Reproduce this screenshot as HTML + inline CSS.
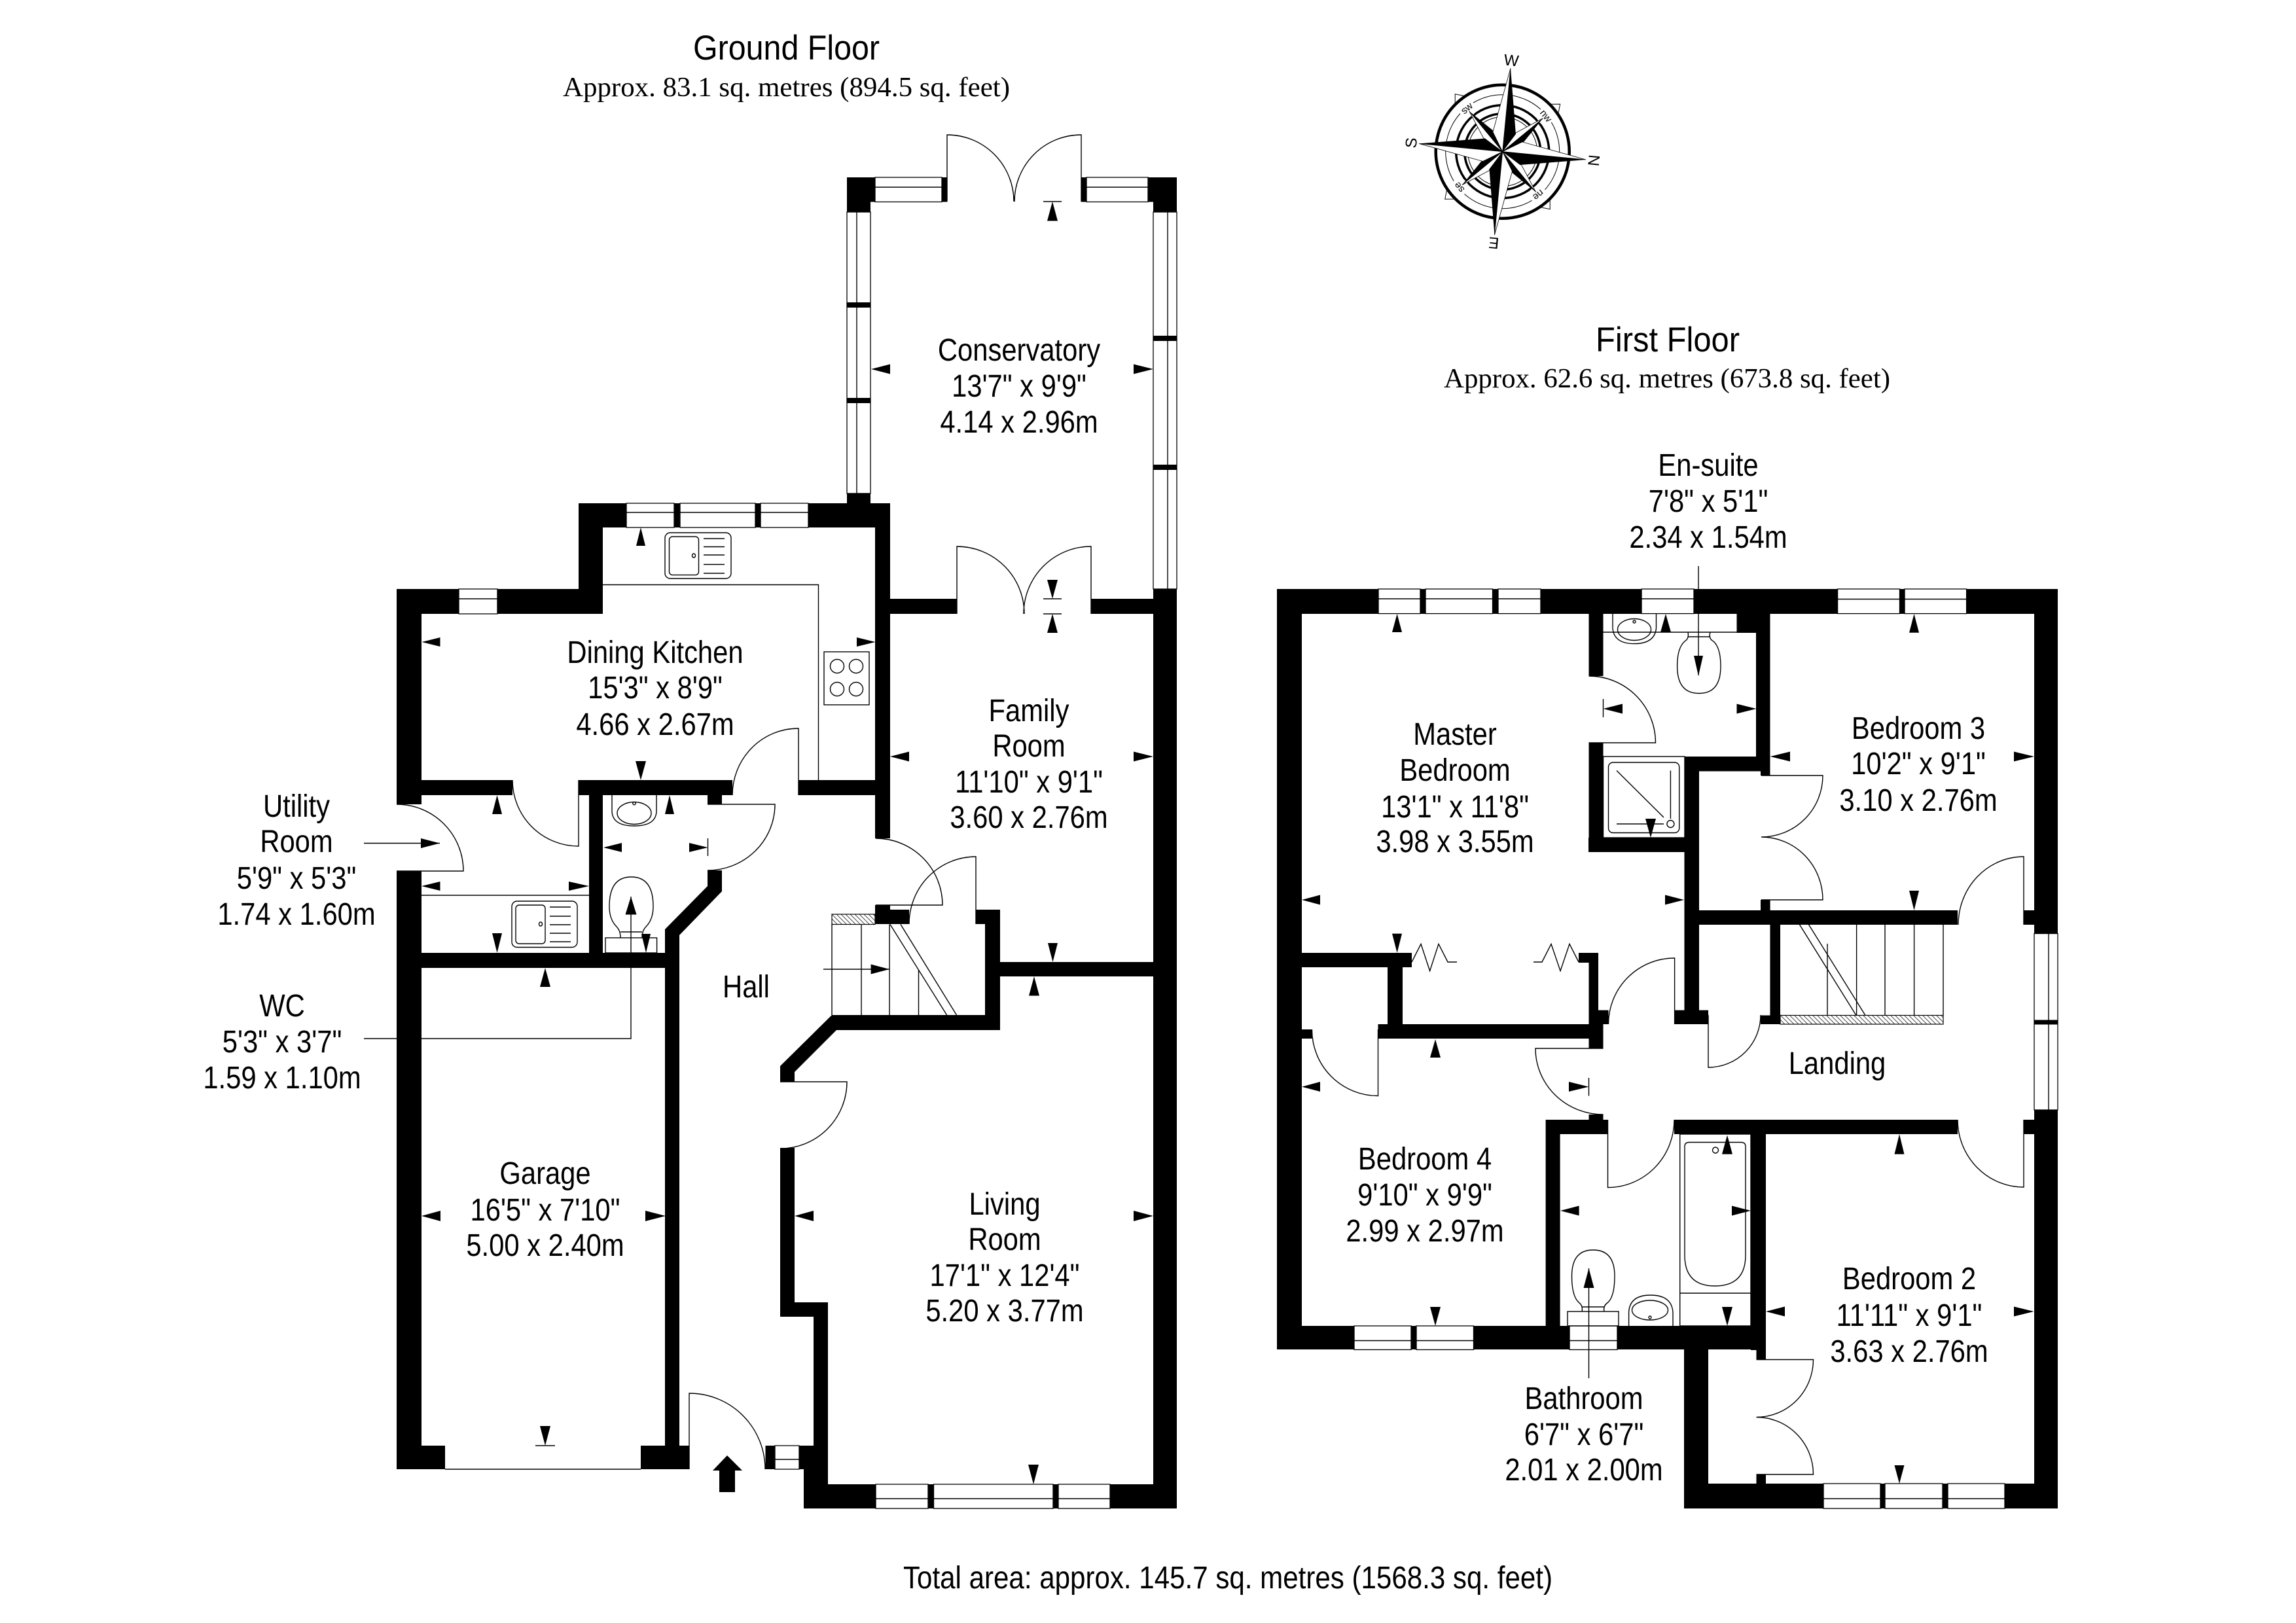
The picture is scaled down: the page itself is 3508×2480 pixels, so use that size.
<!DOCTYPE html>
<html><head><meta charset="utf-8"><title>Floor plan</title>
<style>
html,body{margin:0;padding:0;background:#fff}
svg{display:block}
text{font-family:"Liberation Sans",sans-serif;fill:#000}
.t{font-size:48px;text-anchor:middle}
.s{font-family:"Liberation Serif",serif;font-size:42px}
.h{font-size:53px}
.l{fill:none;stroke:#000;stroke-width:1.4}
.w{fill:#fff;stroke:#000;stroke-width:1.3}
</style></head><body>
<svg xmlns="http://www.w3.org/2000/svg" width="3508" height="2480" viewBox="0 0 3508 2480">
<defs><pattern id="ht" patternUnits="userSpaceOnUse" width="7" height="7"><path d="M0 0L7 7M-7 0L7 14M0 -7L14 7" stroke="#000" stroke-width=".7" fill="none"/></pattern></defs>
<rect width="3508" height="2480" fill="#fff"/>

<!-- headings -->
<text class="h" x="1059" y="91" textLength="285" lengthAdjust="spacingAndGlyphs">Ground Floor</text>
<text class="s" x="860" y="147" textLength="683" lengthAdjust="spacingAndGlyphs">Approx. 83.1 sq. metres (894.5 sq. feet)</text>
<text class="h" x="2438" y="537" textLength="220" lengthAdjust="spacingAndGlyphs">First Floor</text>
<text class="s" x="2206" y="592" textLength="682" lengthAdjust="spacingAndGlyphs">Approx. 62.6 sq. metres (673.8 sq. feet)</text>
<text x="1380" y="2427" style="font-size:48px" textLength="992" lengthAdjust="spacingAndGlyphs">Total area: approx. 145.7 sq. metres (1568.3 sq. feet)</text>

<!-- walls ground -->
<path fill="#000" d="M1294 271H1337V308.5H1330V324H1294Z
M1754 271H1798V324H1762V308.5H1754Z
M1439 271H1447V308.5H1439Z M1652 271H1660V308.5H1652Z
M1294 754H1330V770H1294Z
M1762 900H1798V2305H1762Z
M884 769H1359V806H884Z M884 769H921V938H884Z M606 900H921V938H606Z
M606 900H644V1229H606Z M606 1331H644V2245H606Z
M644 1192H783V1215H644Z M884 1192H1119V1215H884Z M1220 1192H1337V1215H1220Z
M1337 769H1360V1281H1337Z
M1359 915H1462V938H1359Z M1667 915H1762V938H1667Z
M900 1215H921V1456H900Z M644 1456H1038V1479H644Z
M1081 1215H1103V1229H1081Z
M1081 1330H1103V1362L1038 1429V2245H1016V1420L1081 1354Z
M606 2209H680V2245H606Z M979 2209H1053V2245H979Z
M1337 1383H1360V1412H1337Z M1360 1390H1389V1412H1360Z
M1491 1390H1528V1574H1278L1214 1638V1653H1192V1629L1271 1551H1505V1412H1491Z
M1528 1470H1762V1492H1528Z
M1192 1754H1214V1990H1265V2268H1762V2305H1228V2245H1169.5V2209H1243V2012H1192Z"/>

<!-- walls first -->
<path fill="#000" d="M1951 900H3144V938H1951Z M1951 900H1989V2062H1951Z M1951 2026H2698V2062H1951Z
M2427.5 938H2449.5V1033H2427.5Z M2427.5 1135H2449.5V1302H2427.5Z M2427 1280H2596V1302H2427Z
M2683 938H2704.5V1185H2690V1178H2683Z M2653.5 938H2704V967H2653.5Z
M2574 1156H2690V1178.5H2574Z M2573.5 1156H2596V1551H2573.5Z M2558 1543.6H2610V1565H2558Z
M2573.5 1391H2991V1413H2573.5Z M2690 1375H2704.6V1391H2690Z M3092 1391H3108V1413H3092Z
M3108 900H3144V1426.5H3108Z M3108 1696H3144V2305H3108Z M3092 1711H3108V1733H3092Z
M2704.5 1413H2720V1565H2704.5Z M2690 1551.5H2704.5V1565H2690Z
M2558 1711H2991V1733H2558Z
M2675 1733H2698V2063H2675Z M2683.5 2063H2698V2077.5H2683.5Z
M2573 2062H2610V2305H2573Z M2573 2267H3144V2305H2573Z M2683.5 2253H2698V2267H2683.5Z
M2361.6 1711H2383.6V2026H2361.6Z M2361.6 1711H2456.5V1733H2361.6Z M2427.5 1703H2449.5V1711H2427.5Z
M1989 1456H2157V1478H1989Z M2120 1456H2143V1587H2120Z M2105.5 1565H2449.5V1587H2105.5Z
M2412 1456H2442V1471H2412Z M2427.5 1456H2442V1565H2427.5Z M2427.5 1543.6H2457.5V1565H2427.5Z
M2427.5 1565H2449.5V1602H2427.5Z M1989 1573H2004.5V1587H1989Z"/>

<!-- windows -->
<g class="w">
<rect x="1337" y="271" width="102" height="37.5"/><rect x="1660" y="271" width="94" height="37.5"/>
<rect x="1294" y="324" width="36" height="430"/><rect x="1762" y="324" width="36" height="576"/>
<rect x="957" y="769" width="73" height="37"/><rect x="1039" y="769" width="115" height="37"/><rect x="1162" y="769" width="73" height="37"/>
<rect x="701" y="900" width="59" height="38"/>
<rect x="1184" y="2209" width="37" height="36"/>
<rect x="1338" y="2268" width="80" height="37"/><rect x="1426.5" y="2268" width="182.5" height="37"/><rect x="1617" y="2268" width="79" height="37"/>
<rect x="2106" y="900" width="64" height="37.6"/><rect x="2178" y="900" width="102.5" height="37.6"/><rect x="2289" y="900" width="65" height="37.6"/>
<rect x="2508" y="900" width="80" height="37.6"/>
<rect x="2807.6" y="900" width="94.9" height="37.6"/><rect x="2910" y="900" width="94.6" height="37.6"/>
<rect x="3108" y="1426.5" width="36" height="269.5"/>
<rect x="2069" y="2026" width="87" height="36.4"/><rect x="2164" y="2026" width="87.5" height="36.4"/>
<rect x="2398" y="2026" width="73" height="36.4"/>
<rect x="2786" y="2267" width="87" height="38"/><rect x="2880" y="2267" width="88" height="38"/><rect x="2976" y="2267" width="87" height="38"/>
</g>
<path fill="#000" d="M1294 462H1330V470H1294Z M1294 608H1330V616H1294Z M1762 513H1798V521H1762Z M1762 710H1798V718H1762Z M3108 1558.5H3144V1565.5H3108Z"/>
<path class="l" d="M1337 286H1439M1660 286H1754M1309 324V754M1784 324V900M957 783H1030M1039 783H1154M1162 783H1235M701 915H760M1184 2230H1221M1338 2290H1418M1426.5 2290H1609M1617 2290H1696M2106 915H2170M2178 915H2280.5M2289 915H2354M2508 915H2588M2807.6 915.5H2902.5M2910 915.5H3004.6M3130 1426.5V1696M2069 2048.5H2156M2164 2048.5H2251.5M2398 2048.5H2471M2786 2290H2873M2880 2290H2968M2976 2290H3063"/>
<path class="l" d="M680 2245H979"/>

<!-- doors -->
<path class="l" d="M606 1331H708A102 102 0 0 0 606 1229
M884 1192V1293A101 101 0 0 1 783 1192
M1220 1215V1113A101 102 0 0 0 1119 1215
M1081 1229H1184A103 101 0 0 1 1081 1330
M1338 1383H1440A102 102 0 0 0 1338 1281
M1491 1412V1309A102 103 0 0 0 1389 1412
M1192 1653H1294A102 102 0 0 1 1192 1755
M1053 2245V2129A116 116 0 0 1 1169 2245
M1447 308V206A102 102 0 0 1 1549 308
M1652 308V206A102 102 0 0 0 1550 308
M1462 938V835A103 103 0 0 1 1565 938
M1667 938V835A103 103 0 0 0 1564 938
M2427.5 1135H2529.5A102 102 0 0 0 2427.5 1033
M2691 1185H2785A94 94 0 0 1 2691 1279
M2691 1375H2785A94 96 0 0 0 2691 1279
M3092 1413V1309A100 104 0 0 0 2992 1413
M3092 1711V1814A101 103 0 0 1 2991 1711
M2558.6 1565V1464A101 101 0 0 0 2457.5 1565
M2610 1551V1631A80 80 0 0 0 2690 1551
M2105.5 1573V1674.5A101 101 0 0 1 2004.5 1573
M2449.5 1602H2346A103.5 101 0 0 0 2449.5 1703
M2456.5 1711V1814.5A101.5 103.5 0 0 0 2558 1711
M2683.5 2077.5H2770.5A87 88 0 0 1 2683.5 2165.5
M2683.5 2253H2770.5A87 87.5 0 0 0 2683.5 2165.5"/>

<!-- bifold -->
<path class="l" d="M2157 1470L2171 1442.4L2184.6 1483.6L2198 1442.4L2212 1470H2226M2343 1470H2356L2370 1442.4L2384 1483.6L2398 1442.4L2412 1470"/>

<!-- fittings ground -->
<path class="l" d="M921 893.5H1250.5V1192M644 1368H900"/>
<rect class="l" x="1016" y="814" width="101" height="70" rx="8"/>
<rect class="l" x="1022.5" y="820" width="45" height="58.6" rx="5"/>
<path class="l" d="M1075 823H1107M1075 835.5H1107M1075 848H1107M1075 862.5H1107M1075 876H1107"/>
<ellipse class="l" cx="1060" cy="849" rx="2.5" ry="3"/>
<rect class="l" x="1259" y="996" width="69" height="81"/>
<circle class="l" cx="1279" cy="1018" r="10.5"/><circle class="l" cx="1308" cy="1018" r="10.5"/><circle class="l" cx="1279" cy="1053" r="10.5"/><circle class="l" cx="1308" cy="1053" r="10.5"/>
<rect class="l" x="782" y="1377" width="100" height="70.5" rx="8"/>
<rect class="l" x="788" y="1383" width="45" height="59" rx="5"/>
<path class="l" d="M840 1386H872M840 1400H872M840 1413H872M840 1426H872M840 1439H872"/>
<ellipse class="l" cx="826" cy="1412" rx="2.5" ry="3"/>
<path class="l" d="M935 1215V1240Q936 1262 969 1262Q1002 1262 1003 1240V1215"/>
<ellipse class="l" cx="969" cy="1242.5" rx="26" ry="17"/><circle class="l" cx="969" cy="1227.6" r="2.2"/>
<rect class="l" x="925" y="1433" width="78.6" height="23"/>
<path class="l" d="M948 1433Q948 1422 942 1416Q931 1405 931 1385Q931 1340 964.5 1340Q998 1340 998 1385Q998 1405 987 1416Q981 1422 981 1433M948 1424H981"/>
<!-- stairs ground -->
<rect x="1271" y="1397" width="66" height="15.5" fill="url(#ht)" stroke="#000" stroke-width="1.2"/>
<path class="l" d="M1271 1412.5V1551M1316 1412.5V1551M1359 1412.5V1551M1403.5 1482V1551M1360 1412.5L1446.6 1551M1376 1412.5L1461.5 1551"/>

<!-- fittings first -->
<path class="l" d="M2449.5 966H2653.5"/>
<path class="l" d="M2464 938V960Q2466 983.6 2497 983.6Q2528 983.6 2530.5 960V938"/>
<ellipse class="l" cx="2497" cy="962" rx="25.5" ry="16.5"/><circle class="l" cx="2497" cy="950" r="2"/>
<path class="l" d="M2579 966Q2581 976 2574 980Q2562.6 990 2562.6 1018Q2562.6 1059.5 2596 1059.5Q2629 1059.5 2629 1018Q2629 990 2618 980Q2610 976 2613 966M2579 973H2613"/>
<rect class="l" x="2449.5" y="1156" width="124.5" height="124"/>
<rect class="l" x="2457.5" y="1165" width="108.2" height="107.5" rx="7"/>
<path class="l" d="M2470 1177.5L2542 1249M2552.4 1177.5V1251M2470 1259H2542"/>
<circle class="l" cx="2552.4" cy="1259" r="5.5"/>
<rect x="2720" y="1551.5" width="249" height="13.5" fill="url(#ht)" stroke="#000" stroke-width="1.2"/>
<path class="l" d="M2792 1442V1551.5M2836.6 1412V1551.5M2880 1412V1551.5M2924.6 1412V1551.5M2969 1412V1551.5M2749 1412L2836 1551.5M2763 1412L2850 1551.5"/>
<rect class="l" x="2566.7" y="1733" width="108.3" height="293"/>
<path class="l" d="M2566.7 1976H2675"/>
<path class="l" d="M2581 1745.5H2660Q2667 1745.5 2667 1752V1918Q2667 1965 2620 1965Q2574 1965 2574 1918V1752Q2574 1745.5 2581 1745.5Z"/>
<ellipse class="l" cx="2621" cy="1757.5" rx="4.5" ry="4.5"/>
<rect class="l" x="2395" y="2004" width="78" height="22"/>
<path class="l" d="M2417 2004Q2419 1995 2412 1990Q2401.5 1980 2401.5 1950Q2401.5 1910 2434 1910Q2467 1910 2467 1950Q2467 1980 2457 1990Q2449 1995 2451 2004M2417 1997H2451"/>
<path class="l" d="M2488.6 2026V2005Q2490 1979 2522 1979Q2554 1979 2556 2005V2026"/>
<ellipse class="l" cx="2521" cy="2002" rx="27.5" ry="15"/><circle class="l" cx="2521" cy="2013" r="2"/>

<!-- pointers and ticks -->
<path class="l" d="M556 1288.5H672M556 1587H964V1370M1258 1481H1359M2595 865V1032M2427.5 2106V1938
M1594 308H1622M1594 915H1622M1594 938H1622M818 2209H848M1081.5 1281V1308M2449.5 1068V1096M2427.5 1647V1674.5"/>

<!-- arrowheads -->
<path fill="#000" d="M1608 308L1600 337.5H1616Z M1331 564L1360 556.5V571.5Z M1762 564L1732 556.5V571.5Z
M1608 915L1600 886H1616Z M1608 938L1600 967H1616Z
M979 806L972 834H986Z M644.5 981L672.5 974V988Z M1337.5 981L1309 974V988Z M979 1192L971 1163H987Z
M759.5 1215L752 1244H767Z M644 1354L672.5 1347V1361Z M900 1354L869 1347V1361Z M759.5 1456L752 1426H767Z
M672 1288.5L643 1281V1296Z M964 1370L955.5 1397.5H972.5Z
M1023 1215L1016 1244H1030Z M922 1295L950 1288V1302Z M1081.5 1295L1053 1288V1302Z M987 1456L980 1427H994Z
M833 1479L825 1508H841Z M1359 1481L1330.6 1473.5V1488.5Z
M1360 1156L1389 1148.5V1163.5Z M1762 1156L1732 1148.5V1163.5Z M1608.5 1470L1601 1441H1616Z M1580 1492L1572 1521.5H1588Z
M644 1858L673 1850V1866Z M1017 1858L986 1850V1866Z M833 2209L825 2179H841Z
M1214 1858L1243 1850V1866Z M1762 1858L1732 1850V1866Z M1579 2268L1571 2238H1587Z
M1111 2224L1134 2247H1123V2280H1099V2247H1089Z
M2595 1032.7L2588 1002H2602Z M2427.5 1938L2419.5 1968H2435.5Z
M2134.6 938L2127 966H2142Z M1989 1375L2017 1367.5V1382.5Z M2573 1375L2544 1367.5V1382.5Z
M2545 938L2537 966H2553Z M2449.5 1083L2479 1075.5V1090.5Z M2683.5 1083L2653.5 1075.5V1090.5Z
M2522 1280L2514 1251H2530Z
M2704.6 1156L2735 1148.5V1163.5Z M3108 1156L3077 1148.5V1163.5Z M2924.5 938L2917 966.7H2932Z M2924.5 1391L2917 1361H2932Z
M2134.6 1456L2127 1426.6H2142Z
M1989 1660.6L2017 1653V1668Z M2193 2026L2185 1997H2201Z M2193 1588L2185 1616H2201Z M2427.5 1660.6L2397 1653V1668Z
M2639 1734.5L2631 1763.6H2647Z M2639 2026L2631 1997H2647Z M2384 1850L2412.6 1842.5V1857.5Z M2675 1850L2646 1842.5V1857.5Z
M2902 1733L2894.5 1763.6H2909.5Z M2902 2267L2894.5 2239H2909.5Z M2698 2004L2727 1996.5V2011.5Z M3107.6 2004L3077 1996.5V2011.5Z"/>

<!-- labels -->
<g>
<text class="t" transform="matrix(.87 0 0 1 1557 551)">Conservatory</text>
<text class="t" transform="matrix(.87 0 0 1 1557 606)">13'7" x 9'9"</text>
<text class="t" transform="matrix(.87 0 0 1 1557 661)">4.14 x 2.96m</text>
<text class="t" transform="matrix(.87 0 0 1 1001 1013)">Dining Kitchen</text>
<text class="t" transform="matrix(.87 0 0 1 1001 1067)">15'3" x 8'9"</text>
<text class="t" transform="matrix(.87 0 0 1 1001 1123)">4.66 x 2.67m</text>
<text class="t" transform="matrix(.87 0 0 1 1572 1102)">Family</text>
<text class="t" transform="matrix(.87 0 0 1 1572 1156)">Room</text>
<text class="t" transform="matrix(.87 0 0 1 1572 1211)">11'10" x 9'1"</text>
<text class="t" transform="matrix(.87 0 0 1 1572 1265)">3.60 x 2.76m</text>
<text class="t" transform="matrix(.87 0 0 1 453 1248)">Utility</text>
<text class="t" transform="matrix(.87 0 0 1 453 1302)">Room</text>
<text class="t" transform="matrix(.87 0 0 1 453 1358)">5'9" x 5'3"</text>
<text class="t" transform="matrix(.87 0 0 1 453 1413)">1.74 x 1.60m</text>
<text class="t" transform="matrix(.87 0 0 1 431 1553)">WC</text>
<text class="t" transform="matrix(.87 0 0 1 431 1608)">5'3" x 3'7"</text>
<text class="t" transform="matrix(.87 0 0 1 431 1663)">1.59 x 1.10m</text>
<text class="t" transform="matrix(.87 0 0 1 1140 1524)">Hall</text>
<text class="t" transform="matrix(.87 0 0 1 833 1809)">Garage</text>
<text class="t" transform="matrix(.87 0 0 1 833 1865)">16'5" x 7'10"</text>
<text class="t" transform="matrix(.87 0 0 1 833 1919)">5.00 x 2.40m</text>
<text class="t" transform="matrix(.87 0 0 1 1535 1856)">Living</text>
<text class="t" transform="matrix(.87 0 0 1 1535 1910)">Room</text>
<text class="t" transform="matrix(.87 0 0 1 1535 1965)">17'1" x 12'4"</text>
<text class="t" transform="matrix(.87 0 0 1 1535 2019)">5.20 x 3.77m</text>
<text class="t" transform="matrix(.87 0 0 1 2610 727)">En-suite</text>
<text class="t" transform="matrix(.87 0 0 1 2610 782)">7'8" x 5'1"</text>
<text class="t" transform="matrix(.87 0 0 1 2610 837)">2.34 x 1.54m</text>
<text class="t" transform="matrix(.87 0 0 1 2223 1138)">Master</text>
<text class="t" transform="matrix(.87 0 0 1 2223 1193)">Bedroom</text>
<text class="t" transform="matrix(.87 0 0 1 2223 1249)">13'1" x 11'8"</text>
<text class="t" transform="matrix(.87 0 0 1 2223 1302)">3.98 x 3.55m</text>
<text class="t" transform="matrix(.87 0 0 1 2931 1129)">Bedroom 3</text>
<text class="t" transform="matrix(.87 0 0 1 2931 1183)">10'2" x 9'1"</text>
<text class="t" transform="matrix(.87 0 0 1 2931 1239)">3.10 x 2.76m</text>
<text class="t" transform="matrix(.87 0 0 1 2807 1641)">Landing</text>
<text class="t" transform="matrix(.87 0 0 1 2177 1787)">Bedroom 4</text>
<text class="t" transform="matrix(.87 0 0 1 2177 1842)">9'10" x 9'9"</text>
<text class="t" transform="matrix(.87 0 0 1 2177 1897)">2.99 x 2.97m</text>
<text class="t" transform="matrix(.87 0 0 1 2420 2153)">Bathroom</text>
<text class="t" transform="matrix(.87 0 0 1 2420 2208)">6'7" x 6'7"</text>
<text class="t" transform="matrix(.87 0 0 1 2420 2262)">2.01 x 2.00m</text>
<text class="t" transform="matrix(.87 0 0 1 2917 1970)">Bedroom 2</text>
<text class="t" transform="matrix(.87 0 0 1 2917 2026)">11'11" x 9'1"</text>
<text class="t" transform="matrix(.87 0 0 1 2917 2081)">3.63 x 2.76m</text>
</g>

<!-- compass -->
<g transform="translate(2295.7 231.7) rotate(5.5)">
<g fill="#fff" stroke="#000" stroke-width="1">
<path d="M-9 -103L0 -114L9 -103Z" transform="rotate(45)"/><path d="M-9 -103L0 -114L9 -103Z" transform="rotate(135)"/><path d="M-9 -103L0 -114L9 -103Z" transform="rotate(225)"/><path d="M-9 -103L0 -114L9 -103Z" transform="rotate(315)"/>
</g>
<g fill="none" stroke="#000">
<circle r="102" stroke-width="4.5"/><circle r="87" stroke-width="1"/><circle r="71" stroke-width="3.5"/><circle r="58" stroke-width="3.5"/><circle r="53" stroke-width="1"/>
</g>
<g fill="#fff">
<circle cx="60" cy="-60" r="13"/><circle cx="60" cy="60" r="13"/><circle cx="-60" cy="60" r="13"/><circle cx="-60" cy="-60" r="13"/>
</g>
<g style="font-size:15px;text-anchor:middle">
<text transform="rotate(45) translate(0 -81)">nw</text>
<text transform="rotate(135) translate(0 -81)">ne</text>
<text transform="rotate(225) translate(0 -81)">se</text>
<text transform="rotate(315) translate(0 -81)">sw</text>
</g>
<g style="font-family:'Liberation Serif',serif;font-size:24px;text-anchor:middle">
<text transform="translate(0 -132)">W</text>
<text transform="rotate(90) translate(0 -132)">N</text>
<text transform="rotate(180) translate(0 -132)">E</text>
<text transform="rotate(270) translate(0 -132)">S</text>
</g>
<g>
<g transform="rotate(0)"><path d="M56.6 -56.6L18 -31L0 0Z" fill="#fff" stroke="#000" stroke-width=".8"/><path d="M56.6 -56.6L31 -18L0 0Z" fill="#000"/></g>
<g transform="rotate(90)"><path d="M56.6 -56.6L18 -31L0 0Z" fill="#fff" stroke="#000" stroke-width=".8"/><path d="M56.6 -56.6L31 -18L0 0Z" fill="#000"/></g>
<g transform="rotate(180)"><path d="M56.6 -56.6L18 -31L0 0Z" fill="#fff" stroke="#000" stroke-width=".8"/><path d="M56.6 -56.6L31 -18L0 0Z" fill="#000"/></g>
<g transform="rotate(270)"><path d="M56.6 -56.6L18 -31L0 0Z" fill="#fff" stroke="#000" stroke-width=".8"/><path d="M56.6 -56.6L31 -18L0 0Z" fill="#000"/></g>
</g>
<g transform="rotate(0)"><path d="M0 -128L-17.6 -28.5L0 0Z" fill="#fff" stroke="#000" stroke-width=".8"/><path d="M0 -128L17.6 -28.5L0 0Z" fill="#000"/></g>
<g transform="rotate(90)"><path d="M0 -128L-17.6 -28.5L0 0Z" fill="#fff" stroke="#000" stroke-width=".8"/><path d="M0 -128L17.6 -28.5L0 0Z" fill="#000"/></g>
<g transform="rotate(180)"><path d="M0 -128L-17.6 -28.5L0 0Z" fill="#fff" stroke="#000" stroke-width=".8"/><path d="M0 -128L17.6 -28.5L0 0Z" fill="#000"/></g>
<g transform="rotate(270)"><path d="M0 -128L-17.6 -28.5L0 0Z" fill="#fff" stroke="#000" stroke-width=".8"/><path d="M0 -128L17.6 -28.5L0 0Z" fill="#000"/></g>
</g>
</svg>
</body></html>
